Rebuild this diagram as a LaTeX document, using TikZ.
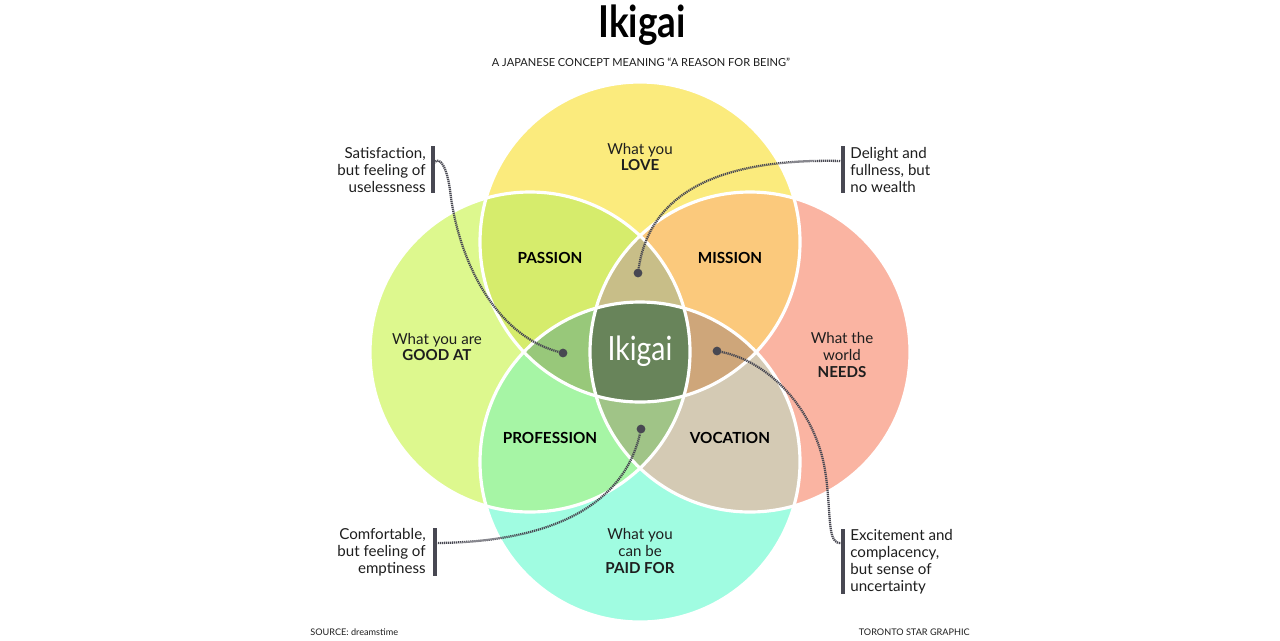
\documentclass[tikz,border=0pt]{standalone}
\usepackage{fontspec}
\setmainfont{Lato}
\newfontfamily\titlefont[FakeStretch=0.84]{Lato}
\newfontfamily\condfont[FakeStretch=0.85]{Lato}
\usetikzlibrary{positioning,calc}
\definecolor{loveC}{RGB}{251,235,125}
\definecolor{goodC}{RGB}{221,248,142}
\definecolor{worldC}{RGB}{250,180,162}
\definecolor{paidC}{RGB}{160,252,225}
\definecolor{passionC}{RGB}{214,236,108}
\definecolor{missionC}{RGB}{251,201,124}
\definecolor{professionC}{RGB}{166,245,165}
\definecolor{vocationC}{RGB}{212,202,180}
\definecolor{upC}{RGB}{200,190,136}
\definecolor{downC}{RGB}{160,196,135}
\definecolor{westC}{RGB}{152,200,122}
\definecolor{eastC}{RGB}{206,166,122}
\definecolor{ikigaiC}{RGB}{104,132,90}
\definecolor{inkC}{RGB}{30,30,30}
\definecolor{leadC}{RGB}{72,72,82}
\tikzset{
  ring/.style={draw=white,line width=1.8pt},
  what/.style={align=center,text=inkC,font=\fontsize{8.6}{9.6}\selectfont},
  area/.style={text=black,font=\bfseries\fontsize{8.7}{9.6}\selectfont},
  note/.style={inner sep=0pt,text=inkC,font=\fontsize{8.6}{9.6}\selectfont},
  bar/.style={draw=leadC,line width=1.8pt},
  lead/.style={draw=leadC,line width=1.3pt,dash pattern=on 0.7pt off 0.45pt},
  pin/.style={circle,fill=leadC,inner sep=0pt,minimum size=5pt},
  small/.style={inner sep=0pt,text=inkC,font=\fontsize{5.2}{6}\selectfont}
}

\begin{document}
\begin{tikzpicture}[x=0.02cm,y=-0.02cm]
    \useasboundingbox (0,0) rectangle (1280,640);
    \fill[white] (0,0) rectangle (1280,640);

    % Circle centres
    \coordinate (cLove) at (640,242);
    \coordinate (cGood) at (530,352);
    \coordinate (cWorld) at (750,352);
    \coordinate (cPaid) at (640,462);

    % Single circles
    \fill[loveC] (cLove) circle (160);
    \fill[goodC] (cGood) circle (160);
    \fill[worldC] (cWorld) circle (160);
    \fill[paidC] (cPaid) circle (160);

    % Pairs
    \begin{scope}\clip (cLove) circle (160); \fill[passionC] (cGood) circle (160); \end{scope}
    \begin{scope}\clip (cLove) circle (160); \fill[missionC] (cWorld) circle (160); \end{scope}
    \begin{scope}\clip (cPaid) circle (160); \fill[professionC] (cGood) circle (160); \end{scope}
    \begin{scope}\clip (cPaid) circle (160); \fill[vocationC] (cWorld) circle (160); \end{scope}

    % Triples
    \begin{scope}\clip (cLove) circle (160); \clip (cGood) circle (160); \fill[upC] (cWorld) circle (160); \end{scope}
    \begin{scope}\clip (cPaid) circle (160); \clip (cGood) circle (160); \fill[downC] (cWorld) circle (160); \end{scope}
    \begin{scope}\clip (cLove) circle (160); \clip (cPaid) circle (160); \fill[westC] (cGood) circle (160); \end{scope}
    \begin{scope}\clip (cLove) circle (160); \clip (cPaid) circle (160); \fill[eastC] (cWorld) circle (160); \end{scope}

    % Centre
    \begin{scope}
        \clip (cLove) circle (160); \clip (cPaid) circle (160); \clip (cGood) circle (160);
        \fill[ikigaiC] (cWorld) circle (160);
    \end{scope}

    % White outlines
    \foreach \c in {cLove,cGood,cWorld,cPaid}
        \draw[ring] (\c) circle (160);

    % Title
    \node[anchor=base,font=\titlefont\bfseries\fontsize{25}{25}\selectfont] (title) at (642,37) {Ikigai};
    \node[anchor=base,text=inkC,font=\fontsize{6.3}{7}\selectfont] (subtitle) at (641,66)
        {A JAPANESE CONCEPT MEANING ``A REASON FOR BEING''};

    % Circle texts
    \node[what] (love) at (640,157) {What you\\\textbf{LOVE}};
    \node[what] (good) at (437,347) {What you are\\\textbf{GOOD AT}};
    \node[what] (world) at (842,355) {What the\\world\\\textbf{NEEDS}};
    \node[what] (paid) at (640,551) {What you\\can be\\\textbf{PAID FOR}};

    % Overlaps
    \node[area] (passion) at (550,258) {PASSION};
    \node[area] (mission) at (730,258) {MISSION};
    \node[area] (profession) at (550,438) {PROFESSION};
    \node[area] (vocation) at (730,438) {VOCATION};
    \node[text=white,font=\condfont\fontsize{19}{19}\selectfont] (ikigai) at (640,351) {Ikigai};

    % Side notes
    \node[note,anchor=east,align=right] (satis) at (426,170) {Satisfaction,\\but feeling of\\uselessness};
    \node[note,anchor=west,align=left] (delight) at (850,170) {Delight and\\fullness, but\\no wealth};
    \node[note,anchor=east,align=right] (comfort) at (426,552) {Comfortable,\\but feeling of\\emptiness};
    \node[note,anchor=west,align=left] (excite) at (850,562) {Excitement and\\complacency,\\but sense of\\uncertainty};

    % Bars
    \coordinate (satisTop) at (433,146); \coordinate (satisBot) at (433,193);
    \coordinate (delTop) at (843,146); \coordinate (delBot) at (843,193);
    \coordinate (comTop) at (435,528); \coordinate (comBot) at (435,576);
    \coordinate (excTop) at (843,529); \coordinate (excBot) at (843,594);
    \draw[bar] (satisTop) -- (satisBot);
    \draw[bar] (delTop) -- (delBot);
    \draw[bar] (comTop) -- (comBot);
    \draw[bar] (excTop) -- (excBot);

    % Pins
    \node[pin] (pinWest) at (563,353) {};
    \node[pin] (pinUp) at (638,273) {};
    \node[pin] (pinDown) at (641,429) {};
    \node[pin] (pinEast) at (717,351) {};

    % Leaders
    \coordinate (satisEnd) at (434,163);
    \coordinate (delEnd) at (842,161);
    \coordinate (comEnd) at (436,543);
    \coordinate (excEnd) at (842,543);
    \draw[lead] (satisEnd) .. controls (440,155) and (447,168) .. (450,190)
        .. controls (458,260) and (495,335) .. (pinWest);
    \draw[lead] (delEnd) .. controls (720,158) and (650,192) .. (pinUp);
    \draw[lead] (comEnd) .. controls (560,542) and (625,500) .. (pinDown);
    \draw[lead] (pinEast) .. controls (770,362) and (815,410) .. (825,470)
        .. controls (832,515) and (826,545) .. (excEnd);

    % Footer
    \node[small,anchor=base west] (source) at (310,635) {SOURCE: dreamstime};
    \node[small,anchor=base east] (credit) at (970,635) {TORONTO STAR GRAPHIC};
\end{tikzpicture}
\end{document}
